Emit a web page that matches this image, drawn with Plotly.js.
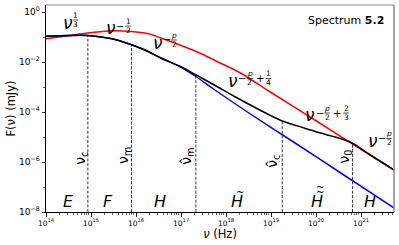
<!DOCTYPE html>
<html><head><meta charset="utf-8">
<script src="https://cdn.plot.ly/plotly-3.0.1.min.js"></script>
<style>html,body{margin:0;padding:0;background:#fff}#chart{width:399px;height:245px}</style>
</head><body><div id="chart"></div>
<script>
// ---- data: log10 of frequency (Hz) and log10 of flux (mJy) ----
const logNuRed   = [14.0, 14.5, 14.93, 15.4, 15.7, 16.0, 16.3, 16.54, 17.06, 17.44, 17.8, 18.32, 19.0, 20.0, 21.0, 21.74];
const logFRed    = [-1.07, -0.95, -0.84, -0.76, -0.76, -0.80, -0.88, -1.03, -1.38, -1.66, -1.98, -2.44, -3.22, -4.35, -5.49, -6.33];
const logNuBlue  = [14.0, 14.5, 14.93, 15.3, 15.6, 15.9, 16.2, 16.54, 17.0, 17.33, 17.73, 18.5, 19.5, 20.5, 21.74];
const logFBlue   = [-0.97, -0.94, -0.94, -1.02, -1.13, -1.31, -1.52, -1.83, -2.21, -2.58, -3.09, -4.03, -5.20, -6.38, -7.84];
const logNuBlack = [14.0, 14.5, 14.93, 15.3, 15.6, 15.9, 16.2, 16.54, 17.0, 17.33, 17.8, 18.21, 18.99, 19.25, 19.7, 20.1, 20.54, 20.8, 21.2, 21.74];
const logFBlack  = [-0.97, -0.94, -0.94, -1.02, -1.13, -1.31, -1.52, -1.83, -2.19, -2.51, -2.98, -3.40, -4.14, -4.36, -4.62, -4.84, -5.06, -5.24, -5.71, -6.32];
const breakNames = ['ν<sub>c</sub>', 'ν<sub>m</sub>', 'ν\u0302<sub>m</sub>', 'ν\u0302<sub>c</sub>', 'ν<sub>0</sub>'];
const logNuBreak = [14.93, 15.9, 17.33, 19.25, 20.81];
const logFBreak  = [-0.94, -1.31, -2.51, -4.36, -5.25];
const logFFloor  = -8;
const regionNames = ['E', 'F', 'H', 'H', 'H', 'H'];
const regionTildes = [0, 0, 0, 1, 2, 0];
const xTickPowers = [14, 15, 16, 17, 18, 19, 20, 21];
const yTickPowers = [0, -2, -4, -6, -8];
const yMinorPowers = [-7, -5, -3, -1];

// ---- layout geometry (pixels) ----
const FONT = 'DejaVu Sans';
const L = 46, R = 394, T = 5, B = 212;
const px = x => (x - L) / (R - L);
const py = y => (B - y) / (B - T);
const pow10 = a => a.map(v => Math.pow(10, v));
const powText = a => a.map(v => '10<sup>' + String(v).replace('-', '\u2212') + '</sup>');

const annotations = [];
const shapes = [];
function txt(x, y, text, size, extra) {
  annotations.push(Object.assign({xref: 'paper', yref: 'paper', x: px(x), y: py(y), text: text,
    showarrow: false, xanchor: 'center', yanchor: 'middle',
    font: {family: FONT, size: size, color: '#000'}}, extra || {}));
}
function frac(cx, by, num, den) {
  txt(cx, by - 4.6, num, 7.5);
  txt(cx, by + 4.4, den, 7.5);
  shapes.push({type: 'line', xref: 'paper', yref: 'paper', x0: px(cx - 2.8), x1: px(cx + 2.8),
    y0: py(by), y1: py(by), line: {color: '#000', width: 0.7}});
}
// power-law labels: nu centre, then superscript pieces at x offsets
const powerLabels = [
  {c: [68, 24.5], s: [['f', 7.5, '1', '3']]},
  {c: [111, 30.5], s: [['-', 9], ['f', 17, '1', '2']]},
  {c: [158, 44.5], s: [['-', 9], ['f', 16, '<i>p</i>', '2']]},
  {c: [232.5, 83], s: [['-', 9.5], ['f', 17.5, '<i>p</i>', '2'], ['+', 27], ['f', 36, '1', '4']]},
  {c: [310, 117.5], s: [['-', 10], ['f', 17, '<i>p</i>', '2'], ['+', 27], ['f', 36, '2', '3']]},
  {c: [372.5, 143], s: [['-', 9.5], ['f', 16.5, '<i>p</i>', '2']]}
];
powerLabels.forEach(lb => {
  const [cx, cy] = lb.c;
  txt(cx, cy - 2, '<i>ν</i>', 17);
  const by = cy - 4.5;
  lb.s.forEach(p => {
    if (p[0] === 'f') frac(cx + p[1], by, p[2], p[3]);
    else txt(cx + p[1], by, p[0] === '-' ? '\u2212' : '+', 10);
  });
});

// region labels along the bottom
const regionX = [68, 108, 160, 237, 317, 370];
regionNames.forEach((n, i) => {
  txt(regionX[i], 201, '<i>' + n + '</i>', 16);
  for (let k = 0; k < regionTildes[i]; k++) txt(regionX[i] + 2.5, 192 - 4.5 * k, '~', 10);
});

// break-frequency labels (rotated), anchored to the break frequency
const breakY = [158, 156, 156, 161, 156];
const breakShift = [-7, -7.5, -9, -9.5, -7];
breakNames.forEach((n, i) => {
  annotations.push({xref: 'x', yref: 'paper', x: logNuBreak[i], y: py(breakY[i]), xshift: breakShift[i],
    text: n, textangle: -90, showarrow: false, xanchor: 'center', yanchor: 'middle',
    font: {family: FONT, size: 14, color: '#000'}});
});

// Spectrum tag
annotations.push({xref: 'paper', yref: 'paper', x: px(386), y: py(20), text: 'Spectrum <b>5.2</b>',
  showarrow: false, xanchor: 'right', yanchor: 'middle', font: {family: FONT, size: 11, color: '#000'}});

// top/right frame
shapes.push({type: 'line', xref: 'paper', yref: 'paper', x0: 0, x1: 1, y0: 1, y1: 1, line: {color: '#8a8a8a', width: 1}});
shapes.push({type: 'line', xref: 'paper', yref: 'paper', x0: 1, x1: 1, y0: 0, y1: 1, line: {color: '#8a8a8a', width: 1.5}});

// dashed break lines built from the break arrays
const dashX = [], dashY = [];
logNuBreak.forEach((v, i) => { dashX.push(Math.pow(10, v), Math.pow(10, v), null); dashY.push(Math.pow(10, logFFloor), Math.pow(10, logFBreak[i]), null); });

const traces = [
  {x: dashX, y: dashY, mode: 'lines', line: {color: '#222', width: 0.9, dash: '3px,1.6px'}, hoverinfo: 'skip'},
  {x: pow10(logNuRed), y: pow10(logFRed), mode: 'lines', line: {color: '#ff0000', width: 1.5, shape: 'spline', smoothing: 0.8}},
  {x: pow10(logNuBlue), y: pow10(logFBlue), mode: 'lines', line: {color: '#0000ff', width: 1.5, shape: 'spline', smoothing: 0.8}},
  {x: pow10(logNuBlack), y: pow10(logFBlack), mode: 'lines', line: {color: '#000000', width: 1.5, shape: 'spline', smoothing: 0.8}}
];

const layout = {
  width: 399, height: 245,
  margin: {l: L, r: 399 - R, t: T, b: 245 - B},
  paper_bgcolor: '#fff', plot_bgcolor: '#fff',
  showlegend: false,
  font: {family: FONT, color: '#000'},
  xaxis: {type: 'log', range: [14, 21.733], tickmode: 'array', tickvals: pow10(xTickPowers), ticktext: powText(xTickPowers),
    ticks: 'outside', ticklen: 3.5, tickwidth: 0.8, tickcolor: '#000', tickfont: {family: FONT, size: 7.5},
    showline: true, linecolor: '#000', linewidth: 1, showgrid: false, zeroline: false,
    minor: {dtick: 'D1', ticks: 'outside', ticklen: 2, tickwidth: 0.6, tickcolor: '#000', showgrid: false},
    title: {text: '<i>ν</i> (Hz)', font: {family: FONT, size: 11.5}, standoff: 3}},
  yaxis: {type: 'log', range: [-8, 0.28], tickmode: 'array', tickvals: pow10(yTickPowers), ticktext: powText(yTickPowers),
    ticks: 'outside', ticklen: 3.5, tickwidth: 0.8, tickcolor: '#000', tickfont: {family: FONT, size: 9},
    showline: true, linecolor: '#000', linewidth: 1, showgrid: false, zeroline: false,
    minor: {tickvals: pow10(yMinorPowers), ticks: 'outside', ticklen: 2, tickwidth: 0.6, tickcolor: '#000', showgrid: false},
    title: {text: 'F(ν) (mJy)', font: {family: FONT, size: 11.5}, standoff: 0}},
  annotations: annotations,
  shapes: shapes
};
Plotly.newPlot('chart', traces, layout, {staticPlot: true, displayModeBar: false});
</script></body></html>
